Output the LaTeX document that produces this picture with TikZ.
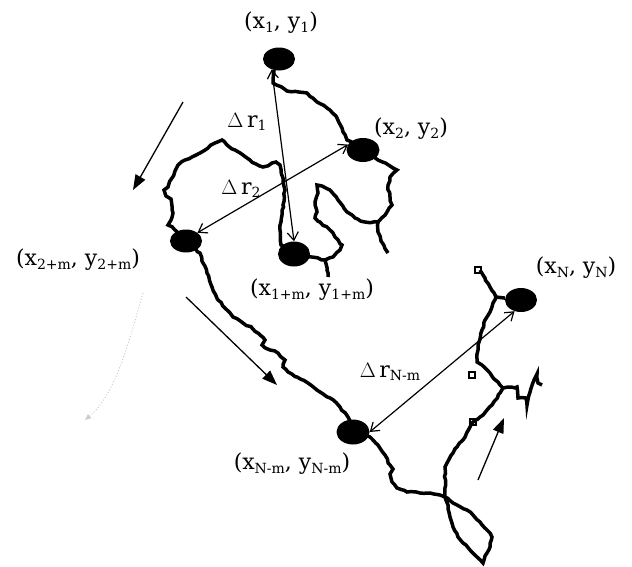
\documentclass[tikz,border=0pt]{standalone}
\usepackage{fontspec}
\setmainfont{DejaVu Serif}
\usetikzlibrary{arrows.meta,shapes.geometric,decorations.pathmorphing}
\newcommand{\sbx}[1]{\raisebox{-0.3ex}{\fontsize{14}{14}\selectfont #1}}

\begin{document}
\begin{tikzpicture}[x=1pt,y=-1pt,
  dot/.style={ellipse,fill=black,inner sep=0pt,minimum width=32pt,minimum height=23pt},
  lbl/.style={inner sep=0pt,font=\fontsize{22}{22}\selectfont},
  walk/.style={line width=3.5pt,line join=miter,decorate,decoration={random steps,segment length=4pt,amplitude=0.8pt}},
  cell/.style={line width=2.6pt},
  disp/.style={{Straight Barb[length=8pt,width=11pt]}-{Straight Barb[length=8pt,width=11pt]},line width=1.2pt},
  flow/.style={-{Triangle[length=15pt,width=11pt]},line width=1.3pt},
]
\useasboundingbox (0,0) rectangle (632,566);
\pgfmathsetseed{7}

% the walk
\draw[walk] (274,70) -- (273,83) -- (287,91) -- (307,93) -- (317,102) -- (327,108) -- (337,118) -- (342,128) -- (347,140) -- (363,150)
  -- (378,160) -- (390,166) -- (397,170) -- (390,177) -- (388,185) -- (390,197) -- (392,205) -- (387,212) -- (378,222)
  -- (365,222) -- (355,218) -- (347,212) -- (338,200) -- (330,190) -- (322,186) -- (317,185) -- (318,193) -- (315,202)
  -- (317,212) -- (315,218) -- (320,222) -- (330,230) -- (335,237) -- (342,245) -- (340,250) -- (333,257) -- (325,260) -- (294,254);
\draw[walk] (378,222) -- (378,232) -- (381,241) -- (388,253);
\draw[walk] (325,260) -- (327,270) -- (328,277);
\draw[walk] (294,254) -- (281,245) -- (280,230) -- (282,215) -- (283,205) -- (285,190) -- (283,178) -- (280,165) -- (276,162)
  -- (263,167) -- (256,164) -- (250,160) -- (243,155) -- (235,150) -- (227,145) -- (222,140) -- (215,143) -- (208,148)
  -- (200,153) -- (192,157) -- (185,160) -- (178,165) -- (175,171) -- (172,178) -- (168,187) -- (164,190) -- (166,196)
  -- (171,199) -- (172,206) -- (173,213) -- (171,220) -- (168,225) -- (174,229) -- (186,241);
\draw[walk] (186,241) -- (200,253) -- (203,263) -- (207,273) -- (212,287) -- (218,300) -- (227,310) -- (233,317) -- (243,323)
  -- (252,328) -- (260,335) -- (265,340) -- (262,345) -- (270,350) -- (278,353) -- (285,360) -- (283,367) -- (288,372)
  -- (297,377) -- (308,383) -- (320,392) -- (330,398) -- (340,407) -- (348,417) -- (353,432) -- (370,437) -- (378,445)
  -- (385,455) -- (390,465) -- (393,469) -- (390,474) -- (392,482) -- (397,488) -- (407,492) -- (420,493) -- (430,493)
  -- (440,495) -- (445,497);
\draw[walk] (445,497) -- (448,505) -- (450,517) -- (453,527) -- (458,537) -- (463,543) -- (470,550) -- (477,557) -- (483,563)
  -- (487,553) -- (490,547) -- (492,537) -- (487,530) -- (480,522) -- (473,515) -- (467,510) -- (457,505) -- (445,497);
\draw[walk] (445,497) -- (445,467) -- (447,463) -- (453,453) -- (457,447) -- (463,440) -- (470,427) -- (474,421) -- (480,417)
  -- (487,410) -- (492,405) -- (500,393) -- (503,388) -- (500,385) -- (490,373) -- (482,365) -- (477,362) -- (478,350)
  -- (478,345) -- (482,330) -- (485,320) -- (490,312) -- (493,303) -- (496,297) -- (490,287) -- (485,278) -- (480,270);
\draw[walk] (503,388) -- (517,387) -- (518,398) -- (526,398) -- (527,405) -- (530,392) -- (534,380) -- (537,374) -- (538,383) -- (542,385);
\draw[cell] (475,267) rectangle (481,273);
\draw[cell] (469,372) rectangle (475,378);
\draw[cell] (470,419) rectangle (476,425);

% sampled positions
\node[dot] (p1) at (279,59) {};
\node[dot,minimum width=33pt,minimum height=24pt] (p2) at (363,150) {};
\node[dot] (p2m) at (186,241) {};
\node[dot,minimum height=25pt] (p1m) at (294,254) {};
\node[dot,minimum height=24pt] (pn) at (521,300) {};
\node[dot,minimum width=33pt,minimum height=25pt] (pnm) at (353,432) {};
\draw[line width=3.5pt] (496,297) -- (pn);

\node[lbl] (lp1) at (281,23) {(x\sbx{1}, y\sbx{1})};
\node[lbl] (lp2) at (411,129) {(x\sbx{2}, y\sbx{2})};
\node[lbl] (lp2m) at (78,260) {(x\sbx{2+m}, y\sbx{2+m})};
\node[lbl] (lp1m) at (312,290) {(x\sbx{1+m}, y\sbx{1+m})};
\node[lbl] (lpn) at (576,268) {(x\sbx{N}, y\sbx{N})};
\node[lbl] (lpnm) at (292,464) {(x\sbx{N-m}, y\sbx{N-m})};
\node[lbl] (dr1) at (247,122) {$\Delta$\,r\sbx{1}};
\node[lbl] (dr2) at (241,189) {$\Delta$\,r\sbx{2}};
\node[lbl] (drnm) at (390,372) {$\Delta$\,r\sbx{N-m}};

\draw[disp] (p1.235) -- (p1m.north);
\draw[disp] (p2m.north east) -- (p2.160);
\draw[disp] (pnm.east) -- (pn.240);

\coordinate (f1a) at (183,102);
\coordinate (f1b) at (133,190);
\coordinate (f2a) at (186,297);
\coordinate (f2b) at (277,385);
\coordinate (f3a) at (478,480);
\coordinate (f3b) at (504,418);
\draw[flow] (f1a) -- (f1b);
\draw[flow] (f2a) -- (f2b);
\draw[flow] (f3a) -- (f3b);

\draw[gray!40,dotted,line width=1pt,-{Triangle[length=6pt,width=5pt]}] (143,293) .. controls (128,345) and (115,395) .. (85,420);
\end{tikzpicture}
\end{document}
